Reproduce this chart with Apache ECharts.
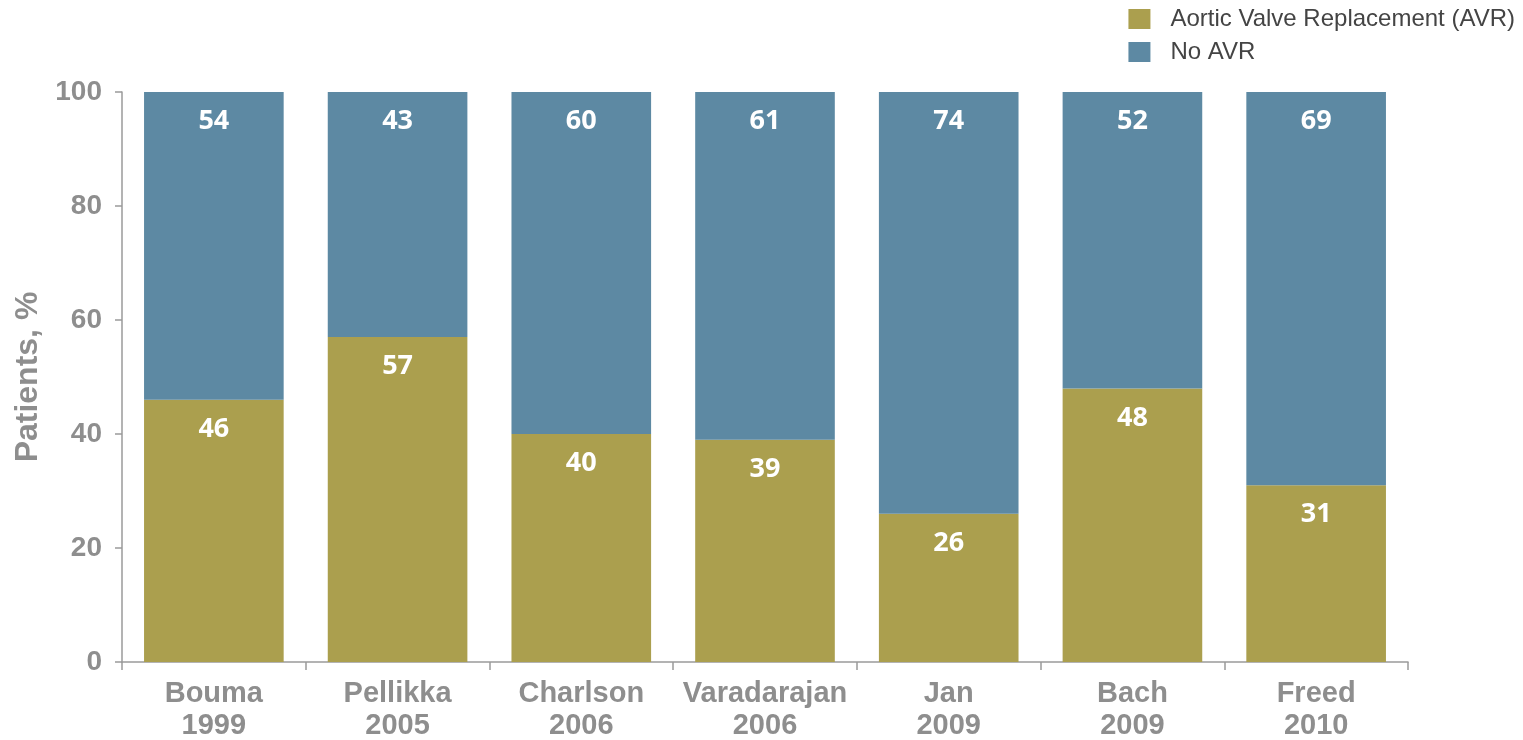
<!DOCTYPE html>
<html>
<head>
<meta charset="utf-8">
<script src="https://cdn.jsdelivr.net/npm/echarts@6/dist/echarts.min.js"></script>
<style>
  html, body { margin: 0; padding: 0; background: #fff; }
  #chart { width: 1523px; height: 740px; }
</style>
</head>
<body>
<div id="chart"></div>
<script>
// Studies (author + year) on the x axis
const studies = ['Bouma\n1999', 'Pellikka\n2005', 'Charlson\n2006', 'Varadarajan\n2006', 'Jan\n2009', 'Bach\n2009', 'Freed\n2010'];
// Share of patients, %
const avr = [46, 57, 40, 39, 26, 48, 31];
const noAvr = [54, 43, 60, 61, 74, 52, 69];
const yTicks = [0, 20, 40, 60, 80, 100];

const gray = '#8e8e8e';
const axisGray = '#9a9a9a';
const labelStyle = {
  show: true,
  position: 'insideTop',
  distance: 16,
  color: '#ffffff',
  fontFamily: 'Open Sans',
  fontWeight: 'bold',
  fontSize: 27
};

const chart = echarts.init(document.getElementById('chart'));
chart.setOption({
  animation: false,
  legend: {
    orient: 'vertical',
    right: 3,
    top: 2,
    itemWidth: 22,
    itemHeight: 20,
    itemGap: 9,
    icon: 'rect',
    textStyle: { fontFamily: 'Liberation Sans', fontSize: 24, lineHeight: 20, color: '#444', padding: [0, 0, 0, 15] },
    data: ['Aortic Valve Replacement (AVR)', 'No AVR']
  },
  grid: { left: 122, right: 115, top: 92, bottom: 78, outerBoundsMode: 'none' },
  xAxis: {
    type: 'category',
    data: studies,
    axisLine: { lineStyle: { color: axisGray, width: 1.5 } },
    axisTick: { show: true, length: 8, lineStyle: { color: axisGray, width: 1.5 } },
    axisLabel: {
      interval: 0,
      color: gray,
      fontFamily: 'Liberation Sans',
      fontWeight: 'bold',
      fontSize: 29,
      lineHeight: 32,
      margin: 16
    }
  },
  yAxis: {
    type: 'value',
    min: 0,
    max: 100,
    interval: 20,
    name: 'Patients, %',
    nameLocation: 'middle',
    nameGap: 76,
    nameRotate: 90,
    nameTextStyle: { color: gray, fontFamily: 'Liberation Sans', fontWeight: 'bold', fontSize: 32 },
    axisLine: { show: true, lineStyle: { color: axisGray, width: 1.5 } },
    axisTick: { show: true, length: 7, lineStyle: { color: axisGray, width: 1.5 } },
    splitLine: { show: false },
    axisLabel: {
      color: gray,
      fontFamily: 'Liberation Sans',
      fontWeight: 'bold',
      fontSize: 28,
      margin: 20,
      formatter: v => yTicks.includes(v) ? String(v) : ''
    }
  },
  series: [
    {
      name: 'Aortic Valve Replacement (AVR)',
      type: 'bar',
      stack: 'total',
      barWidth: '76%',
      data: avr,
      itemStyle: { color: '#ab9f4e' },
      label: labelStyle
    },
    {
      name: 'No AVR',
      type: 'bar',
      stack: 'total',
      barWidth: '76%',
      data: noAvr,
      itemStyle: { color: '#5d89a3' },
      label: labelStyle
    }
  ]
});
</script>
</body>
</html>
